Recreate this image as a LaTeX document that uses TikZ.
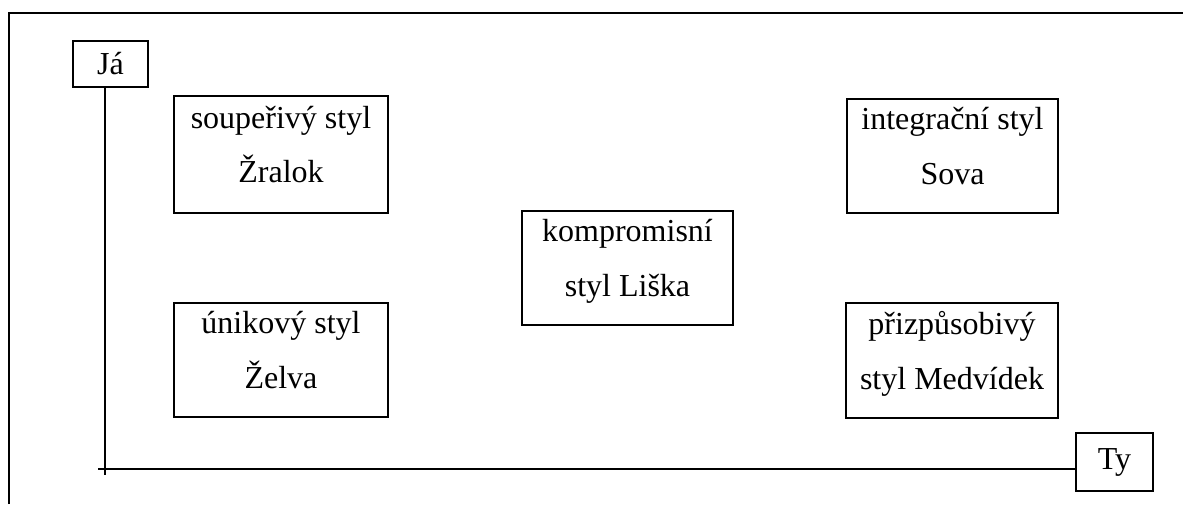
\documentclass[tikz,border=0pt]{standalone}
\usepackage{fontspec}
\setmainfont{Liberation Serif}
\newcommand\mystrut{\rule[-15pt]{0pt}{30pt}}
\tikzset{
  stylebox/.style={draw, line width=1.1pt, rectangle, inner sep=0pt, align=center,
    font=\fontsize{24}{41}\selectfont},
  axis/.style={draw, line width=1.1pt},
}
\begin{document}
\begin{tikzpicture}[x=0.75pt,y=-0.75pt]
\useasboundingbox (0,0) rectangle (1186,504);
% frame
\coordinate (fbl) at (9,504);
\coordinate (ftl) at (9,13);
\coordinate (ftr) at (1183,13);
\draw[line width=1.1pt] (fbl) -- (ftl) -- (ftr);
% axis labels
\node[stylebox, minimum width=56.25pt, minimum height=34.5pt] (ja) at (110.5,64) {Já};
\node[stylebox, minimum width=57.75pt, minimum height=43.5pt] (ty) at (1114.5,462) {Ty};
% axes
\coordinate (o) at (105,469);
\coordinate (vend) at (105,475);
\coordinate (hstart) at (98,469);
\draw[axis] (ja.south -| o) -- (vend);
\draw[axis] (hstart) -- (ty.west |- o);
% style boxes
\node[stylebox, minimum width=160.5pt, minimum height=87.75pt] (shark) at (281,154.5)
  {\mystrut soupeřivý styl\\ \mystrut Žralok};
\node[stylebox, minimum width=160.5pt, minimum height=85.5pt] (turtle) at (281,360)
  {\mystrut únikový styl\\ \mystrut Želva};
\node[stylebox, minimum width=158.25pt, minimum height=85.5pt] (fox) at (627.5,268)
  {\mystrut kompromisní\\ \mystrut styl Liška};
\node[stylebox, minimum width=158.25pt, minimum height=85.5pt] (owl) at (952.5,156)
  {\mystrut integrační styl\\ \mystrut Sova};
\node[stylebox, minimum width=159pt, minimum height=86.25pt] (bear) at (952,360.5)
  {\mystrut přizpůsobivý\\ \mystrut styl Medvídek};
\end{tikzpicture}
\end{document}
